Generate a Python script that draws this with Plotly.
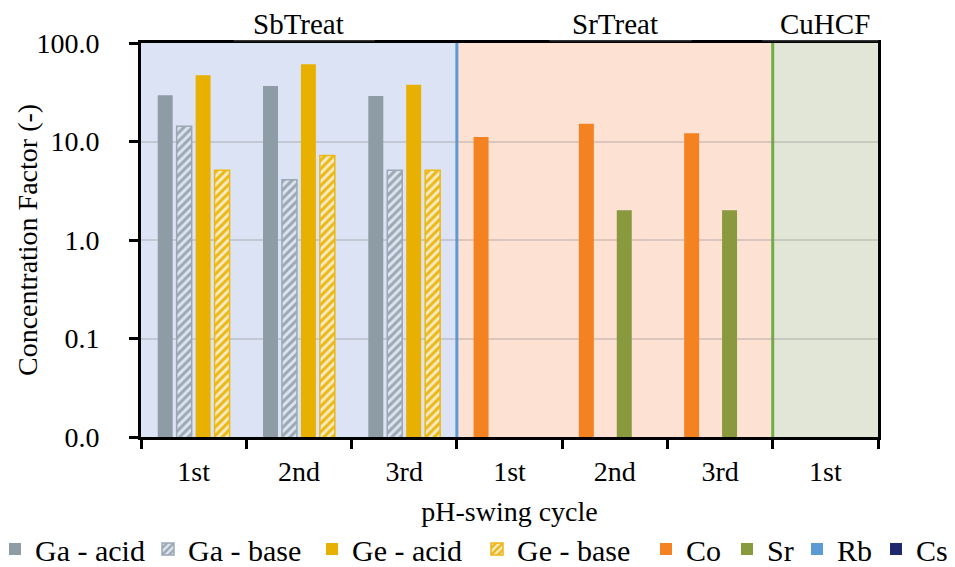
import plotly.graph_objects as go

# ---- data ----
categories = ["1st", "2nd", "3rd", "1st", "2nd", "3rd", "1st"]
x_pos = list(range(len(categories)))

ga_acid = [29.5, 36.6, 29.0, None, None, None, None]
ga_base = [14.3, 4.1, 5.1, None, None, None, None]
ge_acid = [47.0, 61.0, 37.6, None, None, None, None]
ge_base = [5.1, 7.2, 5.1, None, None, None, None]
co = [None, None, None, 11.1, 15.1, 12.1, None]
sr = [None, None, None, None, 2.0, 2.0, None]
rb = [None] * 7
cs = [None] * 7

groups = ["SbTreat", "SrTreat", "CuHCF"]
group_spans = [(-0.5, 2.5), (2.5, 5.5), (5.5, 6.5)]
group_label_x = [1, 4, 6]
group_bg = ["#DCE3F4", "#FDE1D3", "#E2E6D6"]
divider_x = [2.5, 5.5]
divider_colors = ["#5B9BD5", "#70AD47"]

y_tickvals = [0.01, 0.1, 1, 10, 100]
y_ticktext = ["0.0", "0.1", "1.0", "10.0", "100.0"]

FONT = "Liberation Serif, Times New Roman, serif"

# layout geometry (pixels)
W, H = 955, 567
ML, MR, MT, MB = 141, 77, 43, 130
PW = W - ML - MR
PH = H - MT - MB

def px_to_paper_x(px):
    return (px - ML) / PW

# left edge (px) of each legend entry, one legend per entry
legend_left_px = [-5, 148, 312, 477, 646, 727, 797, 876]
legend_center_px_y = 549

fig = go.Figure()
_leg_i = [0]

def legend_name():
    i = _leg_i[0]
    _leg_i[0] += 1
    return "legend" if i == 0 else f"legend{i + 1}"

def solid(name, y, color, og):
    fig.add_trace(go.Bar(
        x=x_pos, y=y, name=name, offsetgroup=og, legend=legend_name(),
        showlegend=True,
        marker=dict(color=color, line=dict(width=0)),
    ))

def hatched(name, y, fg, bg, og):
    fig.add_trace(go.Bar(
        x=x_pos, y=y, name=name, offsetgroup=og, legend=legend_name(),
        showlegend=True,
        marker=dict(color=bg, line=dict(color=fg, width=1.5),
                    pattern=dict(shape="/", fgcolor=fg, bgcolor=bg,
                                 size=6, solidity=0.5, fgopacity=1)),
    ))

solid("Ga - acid", ga_acid, "#8E9CA6", "1")
hatched("Ga - base", ga_base, "#9AA8B6", "#DDE4EE", "2")
solid("Ge - acid", ge_acid, "#E8B000", "3")
hatched("Ge - base", ge_base, "#EDB714", "#F6EBC4", "4")
solid("Co", co, "#F58220", "1")
solid("Sr", sr, "#88993E", "3")
solid("Rb", rb, "#5B9BD5", "2")
solid("Cs", cs, "#1F2A6E", "4")

shapes = []
for (x0, x1), c in zip(group_spans, group_bg):
    shapes.append(dict(type="rect", xref="x", yref="paper", x0=x0, x1=x1,
                       y0=0, y1=1, fillcolor=c, line=dict(width=0), layer="below"))
for xv, c in zip(divider_x, divider_colors):
    shapes.append(dict(type="line", xref="x", yref="paper", x0=xv, x1=xv,
                       y0=0, y1=1, line=dict(color=c, width=3), layer="between"))

underline_spans = [(0.38, 1.72), (3.38, 4.73), (5.40, 6.5)]
for x0, x1 in underline_spans:
    shapes.append(dict(type="line", xref="x", yref="paper", x0=x0, x1=x1,
                       y0=1.006, y1=1.006, line=dict(color="#333333", width=1.5)))

annotations = []
for g, gx in zip(groups, group_label_x):
    annotations.append(dict(text=g, x=gx, xref="x", y=1, yref="paper",
                            yanchor="bottom", xanchor="center", yshift=1,
                            showarrow=False,
                            font=dict(family=FONT, size=29, color="black")))
annotations.append(dict(text="Concentration Factor (-)", textangle=-90,
                        x=px_to_paper_x(27), xref="paper", xanchor="center",
                        y=0.5, yref="paper", yanchor="middle", showarrow=False,
                        font=dict(family=FONT, size=28, color="black")))

legend_y = -(legend_center_px_y - (MT + PH)) / PH
legends = {}
for i, lx in enumerate(legend_left_px):
    key = "legend" if i == 0 else f"legend{i + 1}"
    legends[key] = dict(orientation="h", x=px_to_paper_x(lx), xanchor="left",
                        y=legend_y, yanchor="middle", visible=True,
                        font=dict(family=FONT, size=30, color="black"),
                        itemwidth=30, bgcolor="rgba(0,0,0,0)", borderwidth=0)

fig.update_layout(
    width=W, height=H, showlegend=True,
    margin=dict(l=ML, r=MR, t=MT, b=MB, autoexpand=False),
    paper_bgcolor="white", plot_bgcolor="white",
    barmode="group", bargap=0.28, bargroupgap=0.21,
    font=dict(family=FONT, size=28, color="black"),
    shapes=shapes, annotations=annotations,
    **legends,
    xaxis=dict(
        range=[-0.5, 6.5], tickmode="array", tickvals=x_pos, ticktext=categories,
        ticks="", showgrid=False, zeroline=False,
        showline=True, linecolor="black", linewidth=3, mirror=True,
        ticklabelstandoff=7,
        tickfont=dict(family=FONT, size=28),
        minor=dict(tickmode="array", tickvals=[v - 0.5 for v in range(8)],
                   ticks="outside", ticklen=9, tickwidth=3, tickcolor="black",
                   showgrid=False),
        title=dict(text="pH-swing cycle", font=dict(family=FONT, size=28), standoff=16),
    ),
    yaxis=dict(
        type="log", range=[-2, 2], tickmode="array", tickvals=y_tickvals,
        ticktext=y_ticktext, ticks="outside", ticklen=9, tickwidth=3,
        tickcolor="black", showline=True, linecolor="black", linewidth=3,
        mirror=True, showgrid=True, gridcolor="rgba(128,128,128,0.28)",
        gridwidth=2, zeroline=False, ticklabelstandoff=24,
        tickfont=dict(family=FONT, size=28),
    ),
)

fig.write_html("out.html")
